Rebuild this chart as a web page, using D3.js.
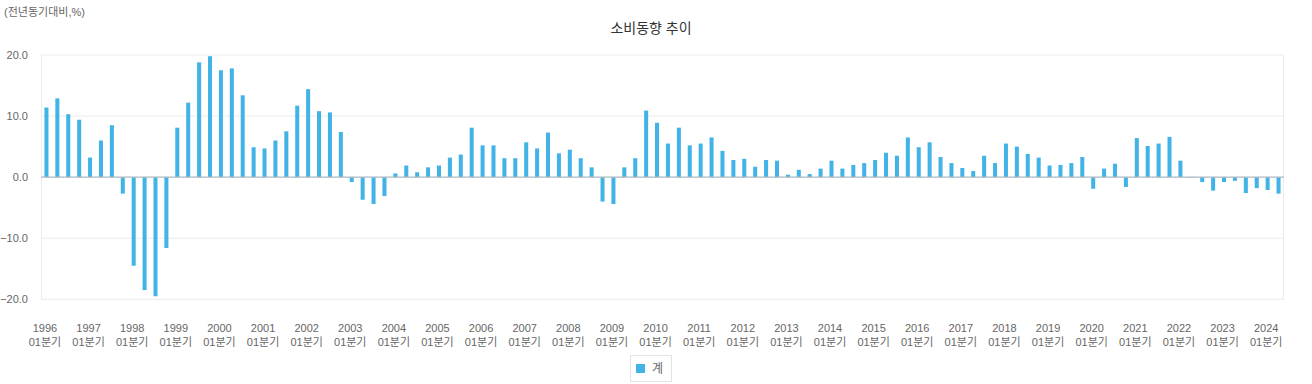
<!DOCTYPE html>
<html>
<head>
<meta charset="utf-8">
<script src="https://cdn.jsdelivr.net/npm/d3@7"></script>
<style>
  html, body { margin: 0; padding: 0; background: #fff; }
  svg { display: block; font-family: "Liberation Sans", Arial, "Noto Sans CJK KR", sans-serif; }
</style>
</head>
<body>
<svg id="chart" width="1312" height="384"></svg>
<script>
const title = "소비동향 추이";
const unitLabel = "(전년동기대비,%)";
const seriesName = "계";
const years = d3.range(1996, 2025);
const quarterLabel = "01분기";
const yTicks = [-20, -10, 0, 10, 20];

// quarterly values, 1996 Q1 .. 2024 Q2
const values1996_2003 = [
  11.4, 12.9, 10.3, 9.4,
  3.2, 6.0, 8.5, -2.7,
  -14.5, -18.5, -19.5, -11.6,
  8.1, 12.2, 18.8, 19.8,
  17.5, 17.8, 13.4, 4.9,
  4.7, 6.0, 7.5, 11.7,
  14.4, 10.8, 10.6, 7.4,
  -0.8, -3.7, -4.4, -3.1
];
const values2004_2013 = [
  0.6, 1.9, 0.8, 1.6,
  1.9, 3.2, 3.7, 8.1,
  5.2, 5.2, 3.1, 3.1,
  5.7, 4.7, 7.3, 3.9,
  4.5, 3.1, 1.6, -4.0,
  -4.4, 1.6, 3.1, 10.9,
  8.9, 5.5, 8.1, 5.2,
  5.5, 6.5, 4.3, 2.8,
  3.0, 1.7, 2.8, 2.7,
  0.4, 1.2, 0.5, 1.4
];
const values2014_2024 = [
  2.7, 1.4, 2.0, 2.3,
  2.8, 4.0, 3.5, 6.5,
  4.9, 5.7, 3.3, 2.3,
  1.5, 1.0, 3.5, 2.3,
  5.5, 5.0, 3.8, 3.2,
  1.9, 2.0, 2.3, 3.3,
  -1.9, 1.4, 2.2, -1.6,
  6.4, 5.1, 5.5, 6.6,
  2.7, -0.1, -0.8, -2.2,
  -0.8, -0.6, -2.6, -1.8,
  -2.1, -2.7
];
const values = values1996_2003.concat(values2004_2013, values2014_2024);

const categories = values.map((v, i) => `${years[Math.floor(i / 4)]}-Q${(i % 4) + 1}`);

const svg = d3.select("#chart");
const plot = { left: 41, right: 1284, top: 55, bottom: 299.3 };
const barColor = "#41b3e6";

const x = d3.scaleBand()
  .domain(categories)
  .range([plot.left, plot.right])
  .paddingInner(0.63)
  .paddingOuter(0.315);

const y = d3.scaleLinear()
  .domain([-20, 20])
  .range([plot.bottom, plot.top]);

// gridlines
svg.append("g").selectAll("line")
  .data(yTicks.filter(d => d !== 0))
  .join("line")
  .attr("x1", plot.left).attr("x2", plot.right)
  .attr("y1", d => y(d)).attr("y2", d => y(d))
  .attr("stroke", "#ebebeb").attr("stroke-width", 1);

// plot borders (left/right)
svg.append("line")
  .attr("x1", plot.left + 0.5).attr("x2", plot.left + 0.5)
  .attr("y1", plot.top).attr("y2", plot.bottom)
  .attr("stroke", "#ebebeb");
svg.append("line")
  .attr("x1", plot.right - 0.5).attr("x2", plot.right - 0.5)
  .attr("y1", plot.top).attr("y2", plot.bottom)
  .attr("stroke", "#ebebeb");

// y tick labels
svg.append("g").selectAll("text")
  .data(yTicks)
  .join("text")
  .attr("x", 28)
  .attr("y", d => y(d))
  .attr("dy", "0.35em")
  .attr("text-anchor", "end")
  .attr("font-size", 11)
  .attr("fill", "#666")
  .text(d => d3.format(".1f")(d));

// bars
svg.append("g").selectAll("rect")
  .data(values)
  .join("rect")
  .attr("x", (d, i) => x(categories[i]))
  .attr("width", x.bandwidth())
  .attr("y", d => y(Math.max(0, d)))
  .attr("height", d => Math.abs(y(d) - y(0)))
  .attr("fill", barColor);

// zero line
svg.append("line")
  .attr("x1", plot.left).attr("x2", plot.right)
  .attr("y1", y(0)).attr("y2", y(0))
  .attr("stroke", "#aeb8c2").attr("stroke-width", 1.2);

// x labels (each year's Q1)
const xl = svg.append("g").selectAll("g")
  .data(years)
  .join("g")
  .attr("transform", (yr) => `translate(${x(yr + "-Q1") + x.bandwidth() / 2 - 1.5},0)`);
xl.append("text")
  .attr("y", 332)
  .attr("text-anchor", "middle")
  .attr("font-size", 11)
  .attr("fill", "#666")
  .text(d => d);
xl.append("text")
  .attr("y", 346)
  .attr("text-anchor", "middle")
  .attr("font-size", 11)
  .attr("fill", "#666")
  .text(quarterLabel);

// title
svg.append("text")
  .attr("x", 651)
  .attr("y", 33)
  .attr("text-anchor", "middle")
  .attr("font-size", 14)
  .attr("fill", "#333")
  .text(title);

// unit label
svg.append("text")
  .attr("x", 4)
  .attr("y", 16)
  .attr("font-size", 11)
  .attr("fill", "#666")
  .text(unitLabel);

// legend
const lg = svg.append("g");
lg.append("rect")
  .attr("x", 630.5).attr("y", 355.5)
  .attr("width", 41).attr("height", 26)
  .attr("fill", "#fff").attr("stroke", "#e3e3e3");
lg.append("rect")
  .attr("x", 636).attr("y", 364)
  .attr("width", 9).attr("height", 9)
  .attr("fill", barColor);
lg.append("text")
  .attr("x", 652).attr("y", 373)
  .attr("font-size", 12)
  .attr("fill", "#666")
  .text(seriesName);
</script>
</body>
</html>
